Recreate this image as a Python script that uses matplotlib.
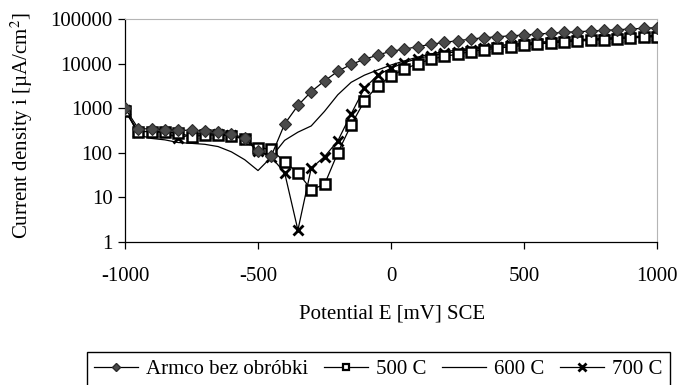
import matplotlib
matplotlib.use("Agg")
import matplotlib.pyplot as plt
from matplotlib.lines import Line2D

plt.rcParams["font.family"] = ["Liberation Serif", "DejaVu Serif"]
plt.rcParams["mathtext.fontset"] = "stix"
plt.rcParams["axes.unicode_minus"] = False

# potential E [mV] SCE, 50 mV steps
potential = [-1000, -950, -900, -850, -800, -750, -700, -650, -600, -550,
             -500, -450, -400, -350, -300, -250, -200, -150, -100, -50,
             0, 50, 100, 150, 200, 250, 300, 350, 400, 450,
             500, 550, 600, 650, 700, 750, 800, 850, 900, 950, 1000]

# current density i [uA/cm2]
armco = [1000, 350, 340, 330, 320, 320, 310, 290, 270, 210,
         110, 85, 440, 1150, 2350, 4100, 6700, 9600, 12500, 15500,
         19000, 21000, 24000, 27000, 30000, 32500, 35500, 38000, 40000, 42000,
         43500, 46000, 48000, 50000, 52000, 53500, 55500, 57500, 59500, 62000, 64000]
t500 = [850, 300, 300, 290, 280, 230, 250, 250, 240, 200,
        130, 120, 62, 36, 15, 19.5, 100, 420, 1450, 3200,
        5200, 7600, 9900, 12500, 14500, 16300, 18500, 20500, 22000, 24000,
        25500, 27500, 29000, 30500, 32000, 33000, 34500, 36000, 37500, 39000, 40500]
t600 = [1000, 250, 210, 195, 170, 163, 155, 138, 105, 70,
        40, 80, 190, 290, 400, 850, 2000, 3800, 5500, 7200,
        9300, 11500, 14000, 16500, 18500, 20000, 22000, 24000, 25500, 27000,
        28500, 30000, 31500, 33000, 34500, 35500, 37000, 38500, 40000, 41500, 43000]
t700 = [900, 300, 300, 290, 210, 260, 270, 260, 250, 200,
        110, 80, 36, 1.85, 45, 82, 185, 740, 2800, 5500,
        7900, 10500, 13000, 15000, 17000, 18500, 20500, 22500, 24000, 25500,
        27000, 28500, 30000, 31500, 33000, 34000, 35500, 37000, 38500, 40000, 41500]

labels = ["Armco bez obróbki", "500 C", "600 C", "700 C"]
fs = 15

fig = plt.figure(figsize=(6.8, 3.85), dpi=100)
ax = fig.add_axes([125 / 680, 1 - 242 / 385, 532 / 680, 223 / 385])

ax.plot(potential, t600, color="black", lw=0.9, zorder=2)
ax.plot(potential, t700, color="black", lw=0.9, marker="x", ms=7.5, mew=2.0,
        mec="black", zorder=3)
ax.plot(potential, t500, color="black", lw=0.9, marker="s", ms=6.8, mew=1.8,
        mfc="white", mec="black", zorder=4)
ax.plot(potential, armco, color="black", lw=0.9, marker="D", ms=6.5, mew=0.8,
        mfc="#4a4a4a", mec="#2a2a2a", zorder=5)

ax.set_yscale("log")
ax.set_ylim(1, 100000)
ax.set_xlim(-1000, 1000)
yt = [1, 10, 100, 1000, 10000, 100000]
ax.set_yticks(yt)
ax.set_yticklabels([str(v) for v in yt])
ax.minorticks_off()
ax.set_xticks([-1000, -500, 0, 500, 1000])
ax.set_xticklabels(["-1000", "-500", "0", "500", "1000"])
ax.tick_params(axis="both", labelsize=fs, direction="out", length=5, width=0.9)
ax.tick_params(axis="x", pad=13)
ax.tick_params(axis="y", pad=4)

for s in ["top", "right"]:
    ax.spines[s].set_color("#b5b5b5")
    ax.spines[s].set_linewidth(0.8)
for s in ["left", "bottom"]:
    ax.spines[s].set_linewidth(0.9)

ax.set_ylabel("Current density i [µA/cm$^{2}$]", fontsize=fs)
ax.yaxis.set_label_coords(-0.17, 0.52)
ax.set_xlabel("Potential E [mV] SCE", fontsize=fs)
ax.xaxis.set_label_coords(0.502, -0.28)

handles = [
    Line2D([], [], color="black", lw=0.9, marker="D", ms=4.5, mfc="#4a4a4a", mec="#2a2a2a"),
    Line2D([], [], color="black", lw=0.9, marker="s", ms=5, mew=1.6, mfc="white", mec="black"),
    Line2D([], [], color="black", lw=0.9),
    Line2D([], [], color="black", lw=0.9, marker="x", ms=6, mew=2.0),
]
fig.legend(handles, labels, loc="upper left", bbox_to_anchor=(87 / 680, 1 - 352 / 385),
           ncol=4, fontsize=fs, frameon=True, fancybox=False, edgecolor="black",
           framealpha=1, borderaxespad=0, borderpad=0.35, handlelength=2.1,
           handletextpad=0.4, columnspacing=0.75)

fig.savefig("out.png", dpi=100)
